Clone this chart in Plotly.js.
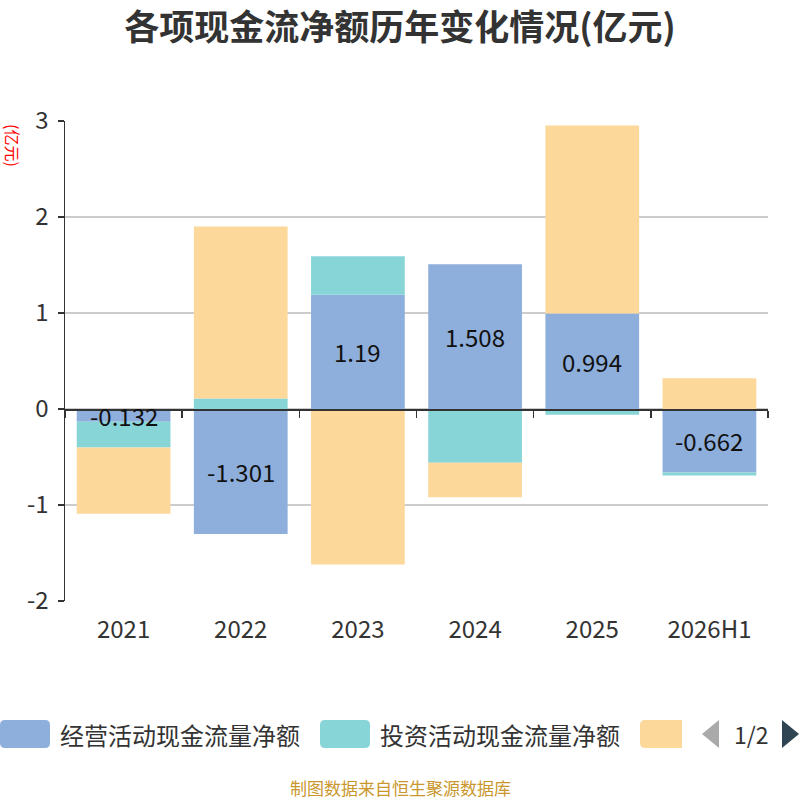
<!DOCTYPE html>
<html>
<head>
<meta charset="utf-8">
<script src="https://cdn.plot.ly/plotly-3.0.1.min.js"></script>
<style>
  body { margin: 0; background: #fff; }
  #chart { width: 800px; height: 800px; }
</style>
</head>
<body>
<div id="chart"></div>
<script>
// categories and series (亿元)
var years = ['2021', '2022', '2023', '2024', '2025', '2026H1'];
var operating = [-0.132, -1.301, 1.19, 1.508, 0.994, -0.662];
var investing = [-0.27, 0.11, 0.40, -0.56, -0.06, -0.03];
var financing = [-0.69, 1.79, -1.62, -0.36, 1.96, 0.32];

var seriesNames = ['经营活动现金流量净额', '投资活动现金流量净额', '筹资活动现金流量净额'];
var seriesColors = ['#8eaedb', '#88d5d8', '#fdd89b'];

var yTicks = [-2, -1, 0, 1, 2, 3];
var yTickText = ['-2', '-1', '0', '1', '2', '3'];

var font = '"Noto Sans CJK SC", "Noto Sans", sans-serif';

// plot area in pixels: x 65..768, y 121..601
function toPaperX(px) { return (px - 65) / 703; }
function toPaperY(py) { return (601 - py) / 480; }
function roundRect(x, y, w, h, r, squareRight) {
  var x0 = toPaperX(x), x1 = toPaperX(x + w);
  var y0 = toPaperY(y), y1 = toPaperY(y + h);
  var rx = r / 703, ry = r / 480;
  var rr = squareRight ? 0 : 1;
  return 'M' + (x0 + rx) + ',' + y0 +
    ' L' + (x1 - rx * rr) + ',' + y0 +
    ' Q' + x1 + ',' + y0 + ' ' + x1 + ',' + (y0 - ry * rr) +
    ' L' + x1 + ',' + (y1 + ry * rr) +
    ' Q' + x1 + ',' + y1 + ' ' + (x1 - rx * rr) + ',' + y1 +
    ' L' + (x0 + rx) + ',' + y1 +
    ' Q' + x0 + ',' + y1 + ' ' + x0 + ',' + (y1 + ry) +
    ' L' + x0 + ',' + (y0 - ry) +
    ' Q' + x0 + ',' + y0 + ' ' + (x0 + rx) + ',' + y0 + ' Z';
}

var allSeries = [operating, investing, financing];
var data = [];
for (let i = 0; i < allSeries.length; i++) {
  data.push({
    type: 'bar',
    name: seriesNames[i],
    x: years,
    y: allSeries[i],
    width: 0.8,
    marker: { color: seriesColors[i] },
    hoverinfo: 'x+y+name'
  });
}

// value labels on the operating series (x as category index, since
// numeric-looking category names get read as positions)
var annotations = [];
for (let i = 0; i < years.length; i++) {
  annotations.push({
    x: i,
    y: operating[i] / 2,
    xref: 'x', yref: 'y',
    text: String(operating[i]),
    showarrow: false,
    font: { family: font, size: 24, color: '#111' }
  });
}

// unit label, top left
annotations.push({
  xref: 'paper', yref: 'paper',
  x: toPaperX(13), y: toPaperY(145),
  xanchor: 'center', yanchor: 'middle',
  text: '(亿元)',
  textangle: 90,
  showarrow: false,
  font: { family: font, size: 16, color: '#ff0000' }
});

// source note
annotations.push({
  xref: 'paper', yref: 'paper',
  x: toPaperX(400), y: toPaperY(787),
  xanchor: 'center', yanchor: 'middle',
  text: '制图数据来自恒生聚源数据库',
  showarrow: false,
  font: { family: font, size: 17, color: '#c9972e' }
});

// hand-made legend (page 1 of 2), like the original
var shapes = [];
var legendX = [0, 320, 640];
var legendLabelShown = [true, true, false];
for (let i = 0; i < seriesNames.length; i++) {
  var px0 = legendX[i];
  var boxW = i === 2 ? 42 : 50;
  shapes.push({
    type: 'path',
    xref: 'paper', yref: 'paper',
    path: roundRect(px0, 720, boxW, 28, 5, i === 2),
    fillcolor: seriesColors[i],
    line: { width: 0 }
  });
  if (legendLabelShown[i]) {
    annotations.push({
      xref: 'paper', yref: 'paper',
      x: toPaperX(px0 + 58), y: toPaperY(734),
      xanchor: 'left', yanchor: 'middle',
      text: seriesNames[i],
      showarrow: false,
      font: { family: font, size: 24, color: '#333' }
    });
  }
}
// pager arrows + page text
shapes.push({
  type: 'path', xref: 'paper', yref: 'paper',
  path: 'M' + toPaperX(719) + ',' + toPaperY(720) + ' L' + toPaperX(702) + ',' + toPaperY(734) +
        ' L' + toPaperX(719) + ',' + toPaperY(748) + ' Z',
  fillcolor: '#aaaaaa', line: { width: 0 }
});
shapes.push({
  type: 'path', xref: 'paper', yref: 'paper',
  path: 'M' + toPaperX(782) + ',' + toPaperY(720) + ' L' + toPaperX(799) + ',' + toPaperY(734) +
        ' L' + toPaperX(782) + ',' + toPaperY(748) + ' Z',
  fillcolor: '#2f4554', line: { width: 0 }
});
annotations.push({
  xref: 'paper', yref: 'paper',
  x: toPaperX(751), y: toPaperY(734),
  xanchor: 'center', yanchor: 'middle',
  text: '1/2', showarrow: false,
  font: { family: font, size: 23, color: '#333' }
});

// boundary ticks on the zero line
var boundaries = [];
for (let i = 0; i <= years.length; i++) boundaries.push(i - 0.5);

var layout = {
  width: 800,
  height: 800,
  margin: { l: 65, r: 32, t: 121, b: 199 },
  paper_bgcolor: '#fff',
  plot_bgcolor: '#fff',
  barmode: 'relative',
  bargap: 0.2,
  showlegend: false,
  title: {
    text: '<b>各项现金流净额历年变化情况(亿元)</b>',
    x: 0.5, xanchor: 'center',
    y: 0.965, yanchor: 'middle',
    font: { family: font, size: 35, color: '#333' }
  },
  font: { family: font, color: '#333' },
  xaxis: {
    type: 'category',
    range: [-0.5, years.length - 0.5],
    showline: false,
    showgrid: false,
    ticks: '',
    ticklen: 0,
    ticklabelstandoff: 12,
    tickfont: { family: font, size: 24, color: '#333' },
    fixedrange: true
  },
  xaxis2: {
    overlaying: 'x',
    anchor: 'free',
    position: 0.4,
    range: [-0.5, years.length - 0.5],
    tickvals: boundaries,
    showticklabels: false,
    ticks: 'outside',
    ticklen: 7,
    tickwidth: 1.5,
    tickcolor: '#333',
    showline: true,
    linecolor: '#333',
    linewidth: 1.5,
    showgrid: false,
    zeroline: false
  },
  yaxis: {
    range: [-2, 3],
    tickvals: yTicks,
    ticktext: yTickText,
    showgrid: true,
    gridcolor: '#cccccc',
    gridwidth: 1.5,
    zeroline: false,
    showline: true,
    linecolor: '#333',
    linewidth: 1.5,
    ticks: 'outside',
    ticklen: 6,
    tickwidth: 1.5,
    tickcolor: '#333',
    ticklabelstandoff: 4,
    tickfont: { family: font, size: 24, color: '#333' },
    fixedrange: true
  },
  shapes: shapes,
  annotations: annotations
};

// invisible point so the overlay axis is drawn
data.push({
  type: 'scatter',
  x: [-0.5], y: [0],
  xaxis: 'x2',
  mode: 'markers',
  marker: { opacity: 0 },
  hoverinfo: 'skip',
  showlegend: false
});

Plotly.newPlot('chart', data, layout, { displayModeBar: false, staticPlot: true });
</script>
</body>
</html>
